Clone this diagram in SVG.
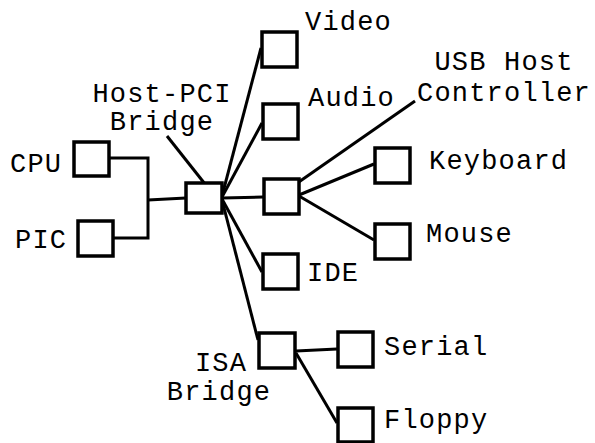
<svg xmlns="http://www.w3.org/2000/svg" width="595" height="443" viewBox="0 0 595 443">
<style>
.box{fill:#fff;stroke:#000;stroke-width:3.5}
.ln{fill:none;stroke:#000;stroke-width:3;stroke-linecap:butt}
text{font-family:"Liberation Mono","DejaVu Sans Mono",monospace;font-size:27px;letter-spacing:1.2px;fill:#000}
.c{text-anchor:middle}
</style>
<rect width="595" height="443" fill="#fff"/>
<g id="connectors">
<polyline class="ln" points="110,158 148,158 148,238 114,238"/>
<line class="ln" x1="148" y1="200" x2="186" y2="198"/>
<line class="ln" x1="167" y1="136" x2="205" y2="184"/>
<line class="ln" x1="222" y1="196" x2="261" y2="48"/>
<line class="ln" x1="222" y1="197" x2="262" y2="123"/>
<line class="ln" x1="222" y1="198" x2="263" y2="197"/>
<line class="ln" x1="222" y1="199" x2="262" y2="272"/>
<line class="ln" x1="222" y1="200" x2="258" y2="340"/>
<line class="ln" x1="283" y1="193" x2="415" y2="101"/>
<line class="ln" x1="299" y1="195" x2="374" y2="164"/>
<line class="ln" x1="299" y1="196" x2="374" y2="240"/>
<line class="ln" x1="296" y1="351" x2="337" y2="349"/>
<line class="ln" x1="296" y1="353" x2="337" y2="423"/>
</g>
<g id="cpu"><rect class="box" x="74" y="142" width="35" height="34"/><text x="10" y="172">CPU</text></g>
<g id="pic"><rect class="box" x="78" y="221" width="35" height="35"/><text x="15" y="248">PIC</text></g>
<g id="hostpci"><rect class="box" x="186" y="183" width="36" height="30"/><text class="c" x="162" y="102">Host-PCI</text><text class="c" x="162" y="130">Bridge</text></g>
<g id="video"><rect class="box" x="262" y="32" width="35" height="35"/><text x="305" y="30">Video</text></g>
<g id="audio"><rect class="box" x="263" y="104" width="35" height="35"/><text x="308" y="106">Audio</text></g>
<g id="usb"><rect class="box" x="264" y="179" width="35" height="35"/><text class="c" x="504" y="70">USB Host</text><text class="c" x="504" y="101">Controller</text></g>
<g id="keyboard"><rect class="box" x="375" y="148" width="35" height="35"/><text x="429" y="169">Keyboard</text></g>
<g id="mouse"><rect class="box" x="375" y="224" width="35" height="35"/><text x="426" y="242">Mouse</text></g>
<g id="ide"><rect class="box" x="263" y="254" width="35" height="35"/><text x="307" y="281">IDE</text></g>
<g id="isa"><rect class="box" x="259" y="333" width="36" height="35"/><text class="c" x="221" y="371">ISA</text><text class="c" x="219" y="400">Bridge</text></g>
<g id="serial"><rect class="box" x="338" y="332" width="35" height="35"/><text x="384" y="355">Serial</text></g>
<g id="floppy"><rect class="box" x="338" y="408" width="35" height="34"/><text x="384" y="428">Floppy</text></g>
</svg>
